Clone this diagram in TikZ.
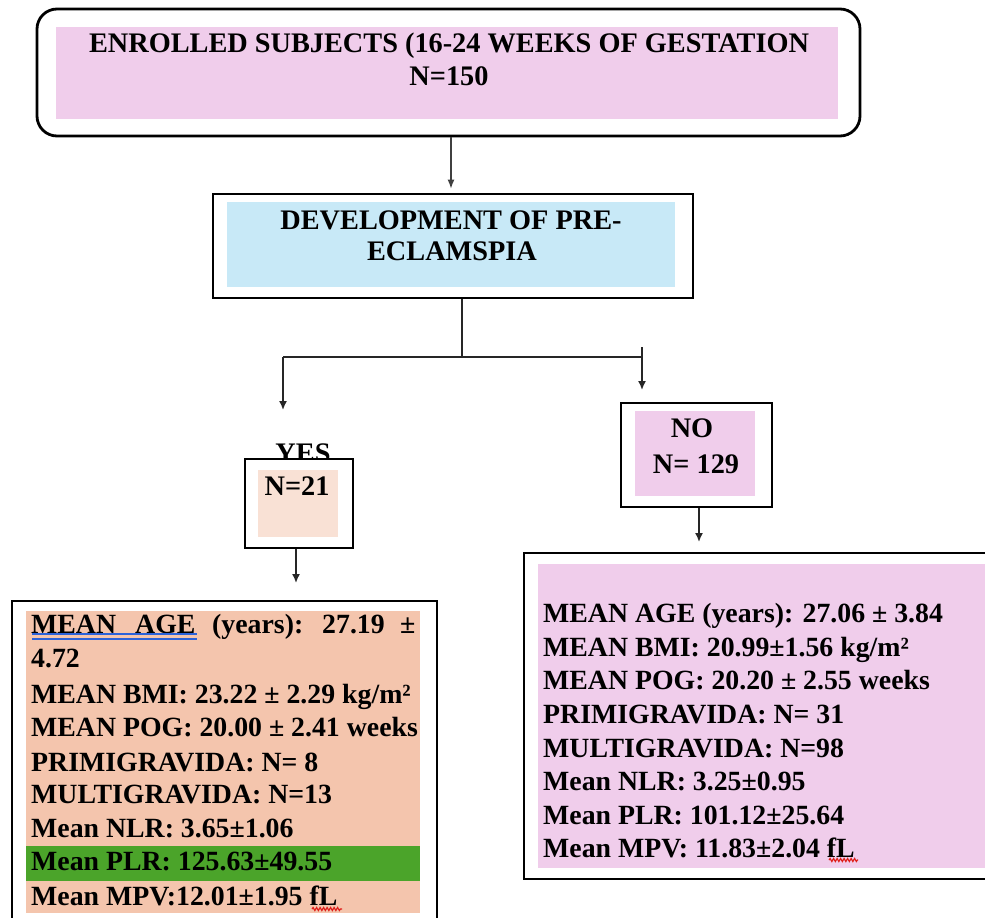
\documentclass[tikz,border=0pt]{standalone}
\usepackage{fontspec}
\setmainfont{Liberation Serif}
\usetikzlibrary{arrows.meta,decorations.pathmorphing}
\definecolor{pinkfill}{HTML}{F0CDEB}
\definecolor{bluefill}{HTML}{C8E9F7}
\definecolor{peachlight}{HTML}{F9E1D5}
\definecolor{peachfill}{HTML}{F4C5AD}
\definecolor{greenfill}{HTML}{4BA42A}
\definecolor{ulblue}{HTML}{2B62DA}
\definecolor{squigred}{HTML}{E0201C}
\tikzset{
  outerbox/.style={draw=black, line width=2.8pt, fill=white, inner sep=0pt},
  txt/.style={font=\fontsize{27.8}{34}\selectfont\bfseries, inner sep=0pt, anchor=base west},
  ctxt/.style={font=\fontsize{28.3}{34}\selectfont\bfseries, inner sep=0pt, anchor=base},
  arrthin/.style={draw=black!75, line width=1.2pt, -{Latex[length=9pt,width=7pt]}},
  arr/.style={draw=black!85, line width=1.6pt, -{Latex[length=9pt,width=8pt]}},
  jline/.style={draw=black!85, line width=2.4pt},
  squig/.style={draw=squigred, line width=1.2pt, decorate, decoration={snake, amplitude=1.5pt, segment length=3.5pt}},
  ulline/.style={draw=ulblue, line width=1.6pt}
}
\begin{document}
\begin{tikzpicture}[x=1pt,y=-1pt]
\useasboundingbox (0,0) rectangle (985,918);

% ---- top box
\node[outerbox, rounded corners=20pt, minimum width=823pt, minimum height=127pt] (enr) at (448.5,72.5) {};
\fill[pinkfill] (56,27) rectangle (838,119);
\node[ctxt] (enr1) at (449,52) {ENROLLED SUBJECTS (16-24 WEEKS OF GESTATION};
\node[ctxt] (enr2) at (449,85) {N=150};

% ---- development box
\node[outerbox, minimum width=480pt, minimum height=104pt] (dev) at (453,246) {};
\fill[bluefill] (227,202) rectangle (675,287);
\node[ctxt] (dev1) at (451,229) {DEVELOPMENT OF PRE-};
\node[ctxt] (dev2) at (452,260) {ECLAMSPIA};

% ---- connectors top
\coordinate (a1) at (451,0);
\draw[arrthin, shorten >=4pt] (enr.south -| a1) -- (dev.north -| a1);

\coordinate (j) at (462,357);
\coordinate (jl) at (283,357);
\coordinate (jr) at (642,357);
\coordinate (jrtop) at (642,347);
\coordinate (tipl) at (283,410);
\coordinate (tipr) at (642,390);
\draw[jline] (dev.south -| j) -- (j);
\draw[jline] (jl) -- (jr);
\draw[arr] (jl) -- (tipl);
\draw[arr] (jrtop) -- (tipr);

% ---- YES box
\node[ctxt] (yeslbl) at (303,462) {YES};
\node[outerbox, minimum width=108pt, minimum height=89pt] (yes) at (299,503.5) {};
\fill[peachlight] (258,470) rectangle (338,537);
\node[ctxt] (yesn) at (297,495) {N=21};

% ---- NO box
\node[outerbox, minimum width=151pt, minimum height=104pt] (no) at (696.5,455) {};
\fill[pinkfill] (635,411) rectangle (755,496);
\node[ctxt] (no1) at (692,437) {NO};
\node[ctxt] (no2) at (696,473) {N= 129};

% ---- arrows under YES / NO
\coordinate (tipy) at (296,583);
\coordinate (tipn) at (699,542);
\draw[arr] (yes.south -| tipy) -- (tipy);
\draw[arr] (no.south -| tipn) -- (tipn);

% ---- left result box
\node[outerbox, minimum width=425pt, minimum height=324pt] (left) at (224.5,763) {};
\fill[peachfill] (26,611) rectangle (420,913);
\fill[greenfill] (26,846) rectangle (420,881);
\node[txt] (l1a) at (31,633) {MEAN};
\node[txt] (l1b) at (135,633) {AGE};
\node[txt] (l1c) at (212,633) {(years):};
\node[txt] (l1d) at (322,633) {27.19};
\node[txt] (l1e) at (400,633) {±};
\draw[ulline] (32,634) -- (197,634);
\draw[ulline] (32,639) -- (197,639);
\node[txt] (l2) at (31,667) {4.72};
\node[txt] (l3) at (31,703) {MEAN BMI: 23.22 ± 2.29 kg/m²};
\node[txt] (l4) at (31,736) {MEAN POG: 20.00 ± 2.41 weeks};
\node[txt] (l5) at (31,771) {PRIMIGRAVIDA: N= 8};
\node[txt] (l6) at (31,803) {MULTIGRAVIDA: N=13};
\node[txt] (l7) at (31,837) {Mean NLR: 3.65±1.06};
\node[txt] (l8) at (31,870) {Mean PLR: 125.63±49.55};
\node[txt] (l9) at (31,905) {Mean MPV:12.01±1.95 fL};
\draw[squig] (312,909) -- (342,909);

% ---- right result box
\node[outerbox, minimum width=471pt, minimum height=326pt] (right) at (759.5,716) {};
\fill[pinkfill] (538,564) rectangle (990,868);
\node[txt] (r1) at (543,622) {MEAN AGE (years): 27.06 ± 3.84};
\node[txt] (r2) at (543,656) {MEAN BMI: 20.99±1.56 kg/m²};
\node[txt] (r3) at (543,689) {MEAN POG: 20.20 ± 2.55 weeks};
\node[txt] (r4) at (543,723) {PRIMIGRAVIDA: N= 31};
\node[txt] (r5) at (543,757) {MULTIGRAVIDA: N=98};
\node[txt] (r6) at (543,790) {Mean NLR: 3.25±0.95};
\node[txt] (r7) at (543,824) {Mean PLR: 101.12±25.64};
\node[txt] (r8) at (543,857) {Mean MPV: 11.83±2.04 fL};
\draw[squig] (829,860) -- (858,860);
\end{tikzpicture}
\end{document}
